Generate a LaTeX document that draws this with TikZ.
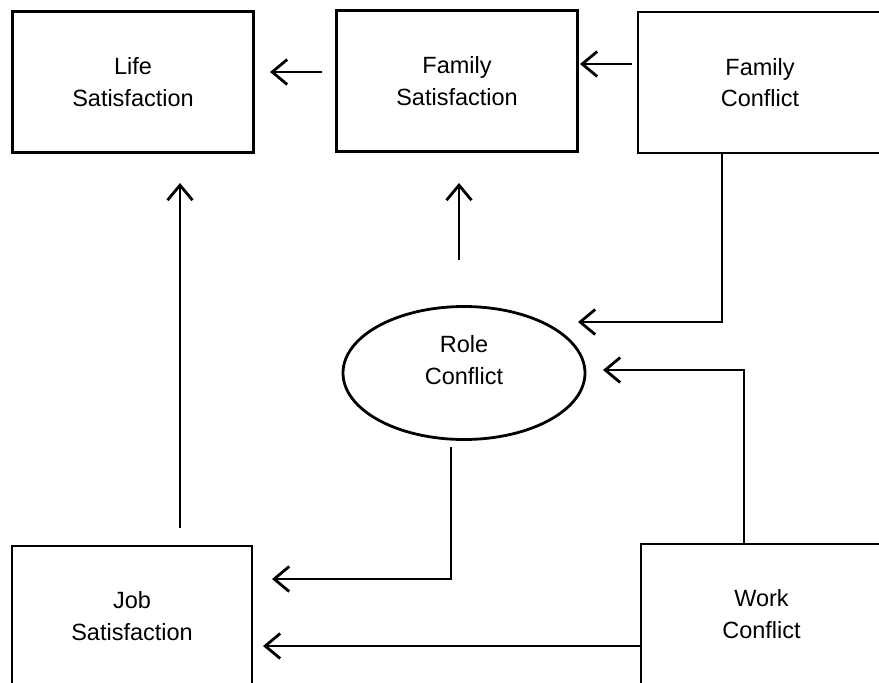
\documentclass[tikz,border=0pt]{standalone}
\usepackage{fontspec}
\setmainfont{Liberation Sans}
\usetikzlibrary{shapes.geometric,arrows.meta}
\begin{document}
\begin{tikzpicture}[x={(1pt,0pt)},y={(0pt,-1pt)},
  every node/.style={font=\fontsize{23.5}{31.5}\selectfont, align=center, inner sep=0pt},
  box/.style={draw, line width=2.8pt, minimum width=241pt, minimum height=141pt},
  oval/.style={draw, ellipse, line width=2.8pt, minimum width=242pt, minimum height=133pt},
  conn/.style={line width=2.8pt, -{Straight Barb[length=15pt,width=25pt,line width=2.8pt]}}]
\useasboundingbox (0,0) rectangle (879,683);
\clip (0,0) rectangle (879,683);
\fill[white] (0,0) rectangle (879,683);
% boxes
\node[box] (life) at (133,82) {Life\\Satisfaction};
\node[box, minimum height=141pt] (famsat) at (457,81) {Family\\Satisfaction};
\node[box, minimum width=244pt] (famconf) at (760,82.5) {Family\\Conflict};
\node[oval] (role) at (464,373) {};
\node (roletext) at (464,360) {Role\\Conflict};
\node[box, minimum width=240pt, minimum height=140pt] (job) at (132,616) {Job\\Satisfaction};
\node[box, minimum width=241pt, minimum height=140pt] (work) at (761.5,614) {Work\\Conflict};
% free ends
\coordinate (a1s) at (322,72);
\coordinate (a1e) at (270,72);
\coordinate (a2s) at (632,64);
\coordinate (a2e) at (580,64);
\coordinate (a3s) at (180,528);
\coordinate (a3e) at (180,183);
\coordinate (a4s) at (459,260);
\coordinate (a4e) at (459,183);
\coordinate (a5s) at (722,153);
\coordinate (a5m) at (722,322);
\coordinate (a5e) at (578,322);
\coordinate (a6s) at (744,544);
\coordinate (a6m) at (744,370);
\coordinate (a6e) at (603,370);
\coordinate (a7s) at (451,447);
\coordinate (a7m) at (451,579);
\coordinate (a7e) at (272,579);
\coordinate (a8s) at (641,646);
\coordinate (a8e) at (263,646);
% connectors
\draw[conn] (a1s) -- (a1e);
\draw[conn] (a2s) -- (a2e);
\draw[conn] (a3s) -- (a3e);
\draw[conn] (a4s) -- (a4e);
\draw[conn] (a5s) -- (a5m) -- (a5e);
\draw[conn] (a6s) -- (a6m) -- (a6e);
\draw[conn] (a7s) -- (a7m) -- (a7e);
\draw[conn] (a8s) -- (a8e);
\end{tikzpicture}
\end{document}
